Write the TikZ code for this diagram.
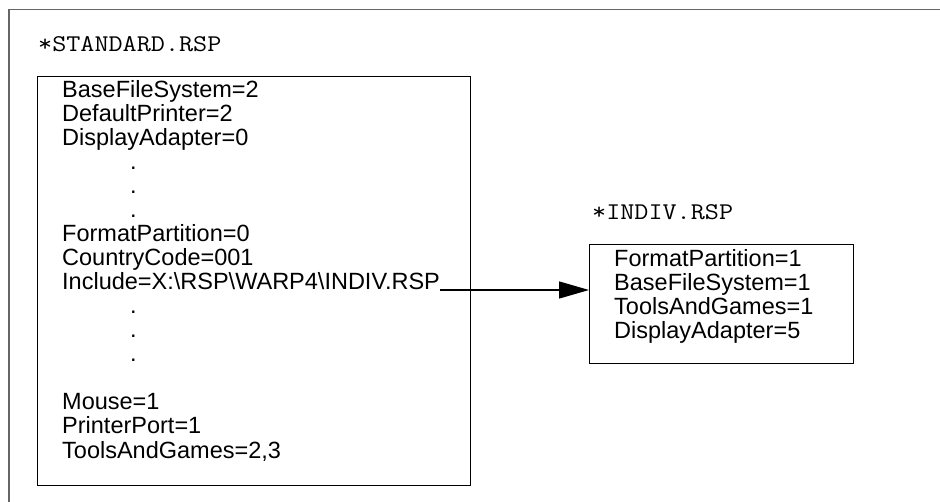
\documentclass[tikz,border=0pt]{standalone}
\usepackage{fontspec}
\setmainfont{Liberation Sans}
\usetikzlibrary{positioning, arrows.meta}
\newcommand{\rspfile}[1]{\scalebox{1.14}[1]{\ttfamily #1}}

\begin{document}
\begin{tikzpicture}[x=1pt, y=-1pt]
        % styles
        \tikzset{filebox/.style={draw, line width=1.3pt, inner sep=0pt, anchor=north west}}
        \tikzset{rsptext/.style={anchor=base west, inner sep=0pt, font=\fontsize{23.5}{24}\selectfont}}
        \tikzset{rspname/.style={anchor=base west, inner sep=0pt, font=\fontsize{24}{24}\selectfont}}

        \useasboundingbox (0,0) rectangle (940,502);

        % outer frame
        \draw[gray!80!black, line width=1.3pt] (9,502) -- (9,9.5) -- (940,9.5);

        % STANDARD.RSP
        \node[rspname] (stdname) at (38,52) {\rspfile{*STANDARD.RSP}};
        \node[filebox, minimum width=433pt, minimum height=409pt] (stdbox) at (37,76) {};
        \foreach \ln/\txt in {1/BaseFileSystem=2, 2/DefaultPrinter=2, 3/DisplayAdapter=0,
                7/FormatPartition=0, 8/CountryCode=001,
                9/{Include=X:\textbackslash RSP\textbackslash WARP4\textbackslash INDIV.RSP},
                14/Mouse=1, 15/PrinterPort=1, 16/{ToolsAndGames=2,3}}
            \node[rsptext] (std\ln) at (62,{98+24*(\ln-1)}) {\txt};
        \foreach \ln in {4,5,6,10,11,12}
            \node[rsptext] (dot\ln) at (130,{98+24*(\ln-1)}) {.};

        % INDIV.RSP
        \node[rspname] (indivname) at (592,220) {\rspfile{*INDIV.RSP}};
        \node[filebox, minimum width=264pt, minimum height=119pt] (indivbox) at (589,244) {};
        \foreach \ln/\txt in {1/FormatPartition=1, 2/BaseFileSystem=1, 3/ToolsAndGames=1, 4/DisplayAdapter=5}
            \node[rsptext] (indiv\ln) at (614,{267+24*(\ln-1)}) {\txt};

        % include arrow
        \draw[line width=1.3pt, -{Triangle[length=30pt,width=17pt]}] (std9.base east) -- (indivbox.west |- std9.base east);
\end{tikzpicture}
\end{document}
